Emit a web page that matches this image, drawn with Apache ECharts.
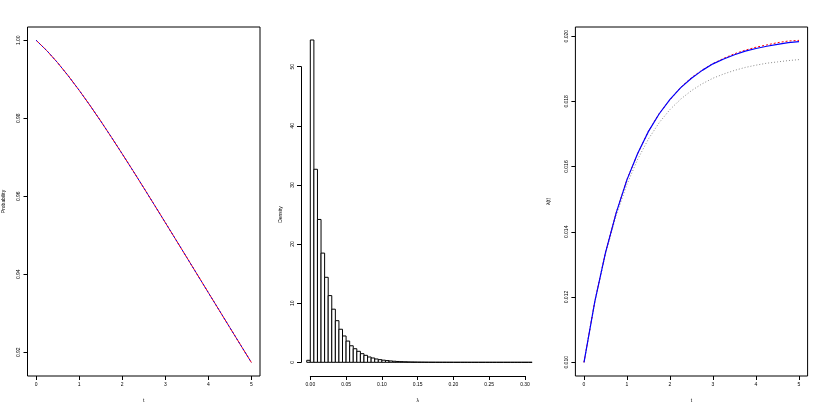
<!DOCTYPE html>
<html>
<head>
<meta charset="utf-8">
<script src="https://cdn.jsdelivr.net/npm/echarts@6/dist/echarts.min.js"></script>
<style>
  html, body { margin: 0; padding: 0; background: #fff; }
  #chart { width: 822px; height: 410px; }
</style>
</head>
<body>
<div id="chart"></div>
<script>
// time grid shared by the two curve panels
const tGrid = [0, 0.25, 0.5, 0.75, 1, 1.25, 1.5, 1.75, 2, 2.25, 2.5, 2.75, 3, 3.25, 3.5, 3.75, 4, 4.25, 4.5, 4.75, 5];

// panel 1: survival probability (red and blue overlap)
const survTrue = [1.0, 0.99732, 0.99424, 0.99083, 0.98717, 0.98331, 0.97928, 0.97512, 0.97086, 0.96654, 0.96215,
  0.95772, 0.95326, 0.94878, 0.94429, 0.93979, 0.93529, 0.93080, 0.92631, 0.92183, 0.91737];
const survEst = [1.0, 0.99732, 0.99424, 0.99083, 0.98717, 0.98331, 0.97928, 0.97512, 0.97086, 0.96654, 0.96215,
  0.95772, 0.95326, 0.94878, 0.94429, 0.93979, 0.93529, 0.93080, 0.92631, 0.92183, 0.91737];

// panel 2: histogram of lambda (density per bin)
const histStart = -0.005;
const histWidth = 0.005;
const histDensity = [0.34, 54.6, 32.7, 24.2, 18.5, 14.4, 11.3, 9.0, 7.05, 5.6, 4.46, 3.6, 2.8, 2.3, 1.86, 1.46,
  1.18, 0.9, 0.73, 0.56, 0.45, 0.36, 0.29, 0.23, 0.18, 0.14, 0.11, 0.09, 0.07, 0.055, 0.044, 0.035, 0.028,
  0.022, 0.017, 0.014, 0.011, 0.009, 0.007, 0.005, 0.004, 0.003, 0.003, 0.002, 0.002, 0.001, 0.001, 0.001,
  0.001, 0.0005, 0.0005, 0, 0, 0, 0, 0, 0, 0, 0, 0, 0, 0, 0];

// panel 3: hazard lambda(t)
const hazardTrue = [0.0100, 0.01186, 0.01337, 0.01459, 0.01561, 0.01640, 0.01709, 0.01763, 0.01805, 0.01843, 0.01873,
  0.01896, 0.01916, 0.01932, 0.01946, 0.01957, 0.01966, 0.01973, 0.01980, 0.01985, 0.01987];
const hazardEst = [0.0100, 0.01185, 0.01336, 0.01459, 0.01560, 0.01641, 0.01708, 0.01762, 0.01806, 0.01842, 0.01871,
  0.01895, 0.01915, 0.01930, 0.01943, 0.01954, 0.01962, 0.01969, 0.01975, 0.01980, 0.01983];
const hazardAlt = [0.0100, 0.01184, 0.01332, 0.01451, 0.01546, 0.01623, 0.01685, 0.01735, 0.01775, 0.01807, 0.01833,
  0.01854, 0.01871, 0.01884, 0.01895, 0.01904, 0.01911, 0.01917, 0.01921, 0.01925, 0.01928];

// tick labels
const tTicks = [0, 1, 2, 3, 4, 5];
const probTicks = [0.92, 0.94, 0.96, 0.98, 1.00];
const hazardTicks = [0.010, 0.012, 0.014, 0.016, 0.018, 0.020];

const font = '"Liberation Sans", Arial, Helvetica, sans-serif';
const txt = { color: '#000', fontSize: 5, fontFamily: font };
const tick = { length: 4, lineStyle: { color: '#000', width: 1 } };
const noLine = { show: false, onZero: false };
const blackLine = { show: true, onZero: false, lineStyle: { color: '#000', width: 1 } };

function pairs(xs, ys) { return xs.map((x, i) => [x, ys[i]]); }

const chart = echarts.init(document.getElementById('chart'));

chart.setOption({
  animation: false,
  backgroundColor: '#fff',
  grid: [
    { left: 27.5, top: 27, width: 232.5, height: 349, show: true, borderColor: '#000', borderWidth: 1 },
    { left: 301.5, top: 27, width: 232.5, height: 349 },
    { left: 310.3, top: 375, width: 214.7, height: 1 },
    { left: 301, top: 66.7, width: 1, height: 295.6 },
    { left: 575.4, top: 27, width: 232.2, height: 349, show: true, borderColor: '#000', borderWidth: 1 }
  ],
  xAxis: [
    {
      gridIndex: 0, type: 'value', min: -0.2, max: 5.2,
      axisLine: noLine, splitLine: { show: false },
      axisTick: Object.assign({ customValues: tTicks }, tick),
      axisLabel: Object.assign({ customValues: tTicks, margin: 6 }, txt),
      name: 't', nameLocation: 'middle', nameGap: 22, nameTextStyle: txt
    },
    { gridIndex: 1, type: 'value', min: -0.0123, max: 0.3126, show: false, axisLine: noLine },
    {
      gridIndex: 2, type: 'value', min: 0, max: 0.3, interval: 0.05,
      axisLine: blackLine, splitLine: { show: false },
      axisTick: tick,
      axisLabel: Object.assign({ margin: 6, formatter: v => v.toFixed(2) }, txt),
      name: 'λ', nameLocation: 'middle', nameGap: 22, nameTextStyle: txt
    },
    { gridIndex: 3, type: 'value', show: false, axisLine: noLine },
    {
      gridIndex: 4, type: 'value', min: -0.2, max: 5.2,
      axisLine: noLine, splitLine: { show: false },
      axisTick: Object.assign({ customValues: tTicks }, tick),
      axisLabel: Object.assign({ customValues: tTicks, margin: 6 }, txt),
      name: 't', nameLocation: 'middle', nameGap: 22, nameTextStyle: txt
    }
  ],
  yAxis: [
    {
      gridIndex: 0, type: 'value', min: 0.9139, max: 1.0034,
      axisLine: noLine, splitLine: { show: false },
      axisTick: Object.assign({ customValues: probTicks }, tick),
      axisLabel: Object.assign({ customValues: probTicks, rotate: 90, margin: 6, formatter: v => v.toFixed(2) }, txt),
      name: 'Probability', nameLocation: 'middle', nameGap: 21, nameRotate: 90, nameTextStyle: txt
    },
    { gridIndex: 1, type: 'value', min: -2.32, max: 56.8, show: false, axisLine: noLine },
    { gridIndex: 2, type: 'value', show: false, axisLine: noLine },
    {
      gridIndex: 3, type: 'value', min: 0, max: 50, interval: 10,
      axisLine: blackLine, splitLine: { show: false },
      axisTick: tick,
      axisLabel: Object.assign({ rotate: 90, margin: 6 }, txt),
      name: 'Density', nameLocation: 'middle', nameGap: 18, nameRotate: 90, nameTextStyle: txt
    },
    {
      gridIndex: 4, type: 'value', min: 0.00958, max: 0.02028,
      axisLine: noLine, splitLine: { show: false },
      axisTick: Object.assign({ customValues: hazardTicks }, tick),
      axisLabel: Object.assign({ customValues: hazardTicks, rotate: 90, margin: 6, formatter: v => v.toFixed(3) }, txt),
      name: 'λ(t)', nameLocation: 'middle', nameGap: 24, nameRotate: 90, nameTextStyle: txt
    }
  ],
  series: [
    {
      type: 'line', xAxisIndex: 0, yAxisIndex: 0, data: pairs(tGrid, survTrue),
      showSymbol: false, lineStyle: { color: '#ff0000', width: 1 }
    },
    {
      type: 'line', xAxisIndex: 0, yAxisIndex: 0, data: pairs(tGrid, survEst),
      showSymbol: false, lineStyle: { color: '#0000ff', width: 1, type: [2, 2] }
    },
    {
      type: 'custom', xAxisIndex: 1, yAxisIndex: 1,
      data: histDensity.map((d, i) => [histStart + i * histWidth, histStart + (i + 1) * histWidth, d]),
      renderItem: function (params, api) {
        const p0 = api.coord([api.value(0), 0]);
        const p1 = api.coord([api.value(1), api.value(2)]);
        return {
          type: 'rect',
          shape: { x: p0[0], y: p1[1], width: p1[0] - p0[0], height: p0[1] - p1[1] },
          style: { fill: '#fff', stroke: '#000', lineWidth: 1 }
        };
      }
    },
    {
      type: 'line', xAxisIndex: 4, yAxisIndex: 4, data: pairs(tGrid, hazardAlt),
      showSymbol: false, lineStyle: { color: '#8c8c8c', width: 1, type: [1, 2] }
    },
    {
      type: 'line', xAxisIndex: 4, yAxisIndex: 4, data: pairs(tGrid, hazardTrue),
      showSymbol: false, lineStyle: { color: '#ff0000', width: 1, type: [2, 2] }
    },
    {
      type: 'line', xAxisIndex: 4, yAxisIndex: 4, data: pairs(tGrid, hazardEst),
      showSymbol: false, lineStyle: { color: '#0000ff', width: 1.2 }
    }
  ]
});
</script>
</body>
</html>
